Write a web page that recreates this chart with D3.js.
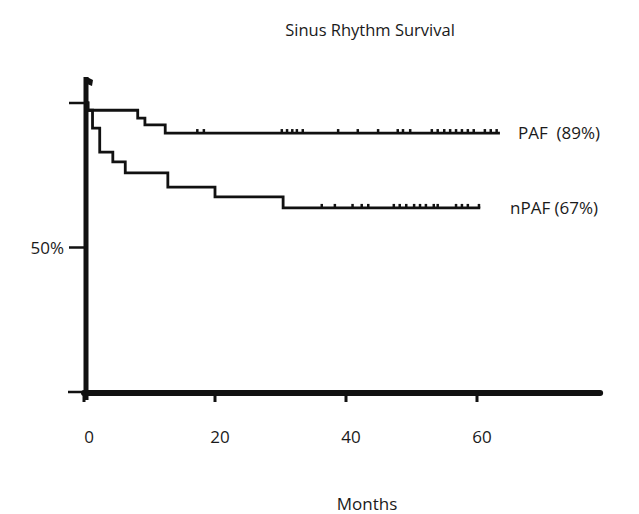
<!DOCTYPE html>
<html>
<head>
<meta charset="utf-8">
<script src="https://cdn.jsdelivr.net/npm/d3@7"></script>
<style>
  body { margin: 0; background: #fff; }
  text { font-family: "Open Sans", "DejaVu Sans", sans-serif; fill: #1a1a1a; }
</style>
</head>
<body>
<script>
// step points: [month, percent]
const pafSteps = [[0, 100], [0.6, 97.5], [8.2, 94.8], [9.3, 92.4], [12.4, 89.6], [63.5, 89.6]];
const npafSteps = [[0, 100], [0.6, 97.5], [1.3, 91.3], [2.4, 83], [4.4, 79.6], [6.3, 75.8],
  [12.8, 70.9], [20, 67.5], [30.4, 63.7], [60.5, 63.7]];

// censored observations (months)
const pafCensor = [17.3, 18.3, 30.2, 31, 31.8, 32.5, 33.4, 38.8, 41.8, 44.9, 47.9, 48.7, 49.8,
  53.1, 54, 55, 55.9, 56.8, 57.7, 58.6, 59.5, 61.2, 62.1, 63];
const npafCensor = [36.3, 38.3, 41, 42.4, 43.4, 47.3, 48.2, 49.2, 50.4, 51.3, 52.2, 53.4, 54,
  56.8, 57.7, 58.6, 60.3];

const xTicks = [0, 20, 40, 60];
const seriesLabels = ['PAF  (89%)', 'nPAF (67%)'];

const w = 639, h = 514;

const svg = d3.select('body').append('svg')
  .attr('width', w)
  .attr('height', h);

const x = d3.scaleLinear().domain([0, 80]).range([84, 608]);
const y = d3.scaleLinear().domain([0, 100]).range([392, 103]);

// title
svg.append('text')
  .attr('x', 370).attr('y', 36)
  .attr('text-anchor', 'middle')
  .style('font-size', '16.5px')
  .text('Sinus Rhythm Survival');

// y axis
svg.append('line')
  .attr('x1', x(0) + 2).attr('x2', x(0) + 2)
  .attr('y1', 77).attr('y2', y(0) + 8)
  .attr('stroke', '#111').attr('stroke-width', 5);
svg.append('path')
  .attr('d', `M${x(0) + 3},77 L${x(0) + 9},80 L${x(0) + 8},86 L${x(0) + 3},84 Z`)
  .attr('fill', '#111');

// y ticks at 100% and 50%
[100, 50].forEach(v => {
  svg.append('line')
    .attr('x1', x(0) - 15).attr('x2', x(0) + 4)
    .attr('y1', y(v)).attr('y2', y(v))
    .attr('stroke', '#111').attr('stroke-width', 2.5);
});
svg.append('text')
  .attr('x', 64).attr('y', y(50) + 6)
  .attr('text-anchor', 'end')
  .style('font-size', '17px')
  .text('50%');

// x axis
svg.append('line')
  .attr('x1', x(0) - 16).attr('x2', x(78.8))
  .attr('y1', y(0)).attr('y2', y(0))
  .attr('stroke', '#111').attr('stroke-width', 2.5);
svg.append('line')
  .attr('x1', x(0)).attr('x2', x(78.8))
  .attr('y1', y(0) + 1).attr('y2', y(0) + 1)
  .attr('stroke', '#111').attr('stroke-width', 6)
  .attr('stroke-linecap', 'round');

svg.selectAll('.xtick')
  .data(xTicks)
  .enter().append('line')
  .attr('class', 'xtick')
  .attr('x1', d => x(d)).attr('x2', d => x(d))
  .attr('y1', y(0)).attr('y2', y(0) + 10)
  .attr('stroke', '#111').attr('stroke-width', 3);

svg.selectAll('.xlab')
  .data(xTicks)
  .enter().append('text')
  .attr('class', 'xlab')
  .attr('x', d => x(d) + 5).attr('y', y(0) + 51)
  .attr('text-anchor', 'middle')
  .style('font-size', '17px')
  .text(d => d);

svg.append('text')
  .attr('x', 367).attr('y', 510)
  .attr('text-anchor', 'middle')
  .style('font-size', '17px')
  .text('Months');

// survival curves
const line = d3.line()
  .x(d => x(d[0]))
  .y(d => y(d[1]))
  .curve(d3.curveStepAfter);

const curves = [
  { steps: pafSteps, censor: pafCensor, label: seriesLabels[0], lx: 518 },
  { steps: npafSteps, censor: npafCensor, label: seriesLabels[1], lx: 510 }
];

curves.forEach(c => {
  svg.append('path')
    .attr('d', line(c.steps))
    .attr('fill', 'none')
    .attr('stroke', '#111')
    .attr('stroke-width', 2.8);

  const last = c.steps[c.steps.length - 1][1];
  svg.selectAll(null)
    .data(c.censor)
    .enter().append('line')
    .attr('x1', d => x(d)).attr('x2', d => x(d))
    .attr('y1', y(last)).attr('y2', y(last) - 4)
    .attr('stroke', '#111').attr('stroke-width', 2.5);

  svg.append('text')
    .attr('x', c.lx)
    .attr('y', y(last) + 6)
    .style('font-size', '17px')
    .style('white-space', 'pre')
    .attr('xml:space', 'preserve')
    .text(c.label);
});
</script>
</body>
</html>
